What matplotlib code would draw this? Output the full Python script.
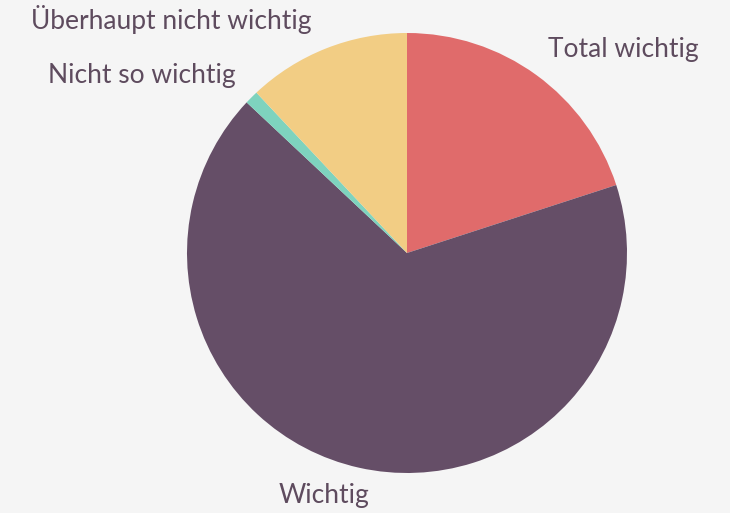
import matplotlib
matplotlib.use("Agg")
import matplotlib.pyplot as plt

categories = ["Total wichtig", "Wichtig", "Nicht so wichtig", "Überhaupt nicht wichtig"]
values = [20, 67, 1, 12]
colors = ["#E06B6B", "#654E67", "#7ED3BE", "#F2CD84"]

W, H = 730, 513
fig = plt.figure(figsize=(W / 100, H / 100), dpi=100)
fig.patch.set_facecolor("#F5F5F5")
ax = fig.add_axes([0, 0, 1, 1])
ax.set_facecolor("#F5F5F5")

cx, cy, r = 407, H - 253, 220
ax.pie(values, colors=colors, startangle=90, counterclock=False,
       center=(cx, cy), radius=r, frame=True,
       wedgeprops=dict(linewidth=0))
ax.set_xlim(0, W)
ax.set_ylim(0, H)
ax.set_aspect("equal")
ax.axis("off")

label_pos = {
    "Total wichtig": (623, H - 50),
    "Wichtig": (324, H - 495),
    "Nicht so wichtig": (142, H - 75),
    "Überhaupt nicht wichtig": (171, H - 20),
}
for c in categories:
    x, y = label_pos[c]
    ax.text(x, y, c, ha="center", va="center", fontsize=19,
            color="#5E4B5E", family=["Lato", "DejaVu Sans"])

fig.savefig("out.png", dpi=100, facecolor=fig.get_facecolor())
